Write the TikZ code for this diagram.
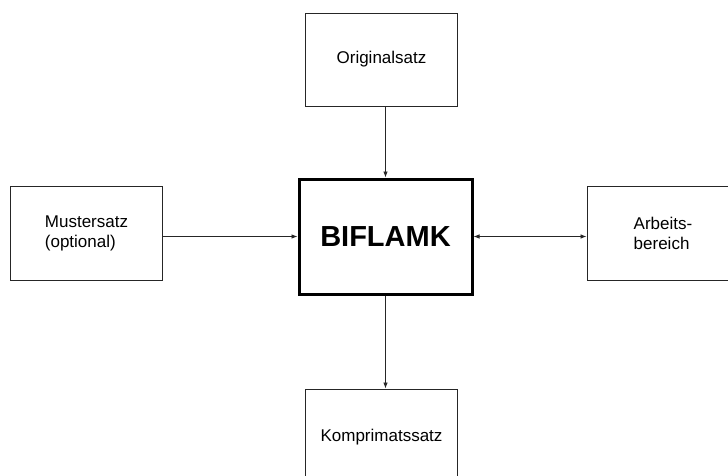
\documentclass[tikz,border=0pt]{standalone}
\usepackage{fontspec}
\setmainfont{Liberation Sans}
\usetikzlibrary{arrows.meta}
\begin{document}
\begin{tikzpicture}[x=1pt,y=1pt,
  box/.style={draw=black!85, line width=0.9pt, minimum width=152pt, minimum height=94pt,
    inner sep=0pt, font=\fontsize{17}{20}\selectfont, align=left},
  core/.style={draw=black, line width=3pt, minimum width=173pt, minimum height=115pt,
    inner sep=0pt, font=\fontsize{29}{34}\selectfont\bfseries},
  flow/.style={draw=black!85, line width=0.8pt, -{Latex[length=6pt,width=4.5pt]}},
  both/.style={draw=black!85, line width=0.8pt, {Latex[length=6pt,width=4.5pt]}-{Latex[length=6pt,width=4.5pt]}}]
  \useasboundingbox (0,0) rectangle (728,475);
  \clip (0,0) rectangle (728,475);

  % central program box
  \node[core] (B) at (385.5,238.5) {BIFLAMK};

  % surrounding data sets
  \node[box, minimum height=93pt] (O) at (381.5,415.5) {Originalsatz};
  \node[box] (M) at (86.5,241.5) {Mustersatz\\(optional)};
  \node[box] (A) at (663,242) {Arbeits-\\bereich};
  \node[box, minimum height=96pt] (K) at (381.5,38) {Komprimatssatz};

  % data flow
  \draw[flow] (B.north |- O.south) -- (B.north);
  \draw[flow] (M.east |- B.west) -- (B.west);
  \draw[both] (B.east) -- (A.west |- B.east);
  \draw[flow] (B.south) -- (B.south |- K.north);
\end{tikzpicture}
\end{document}
